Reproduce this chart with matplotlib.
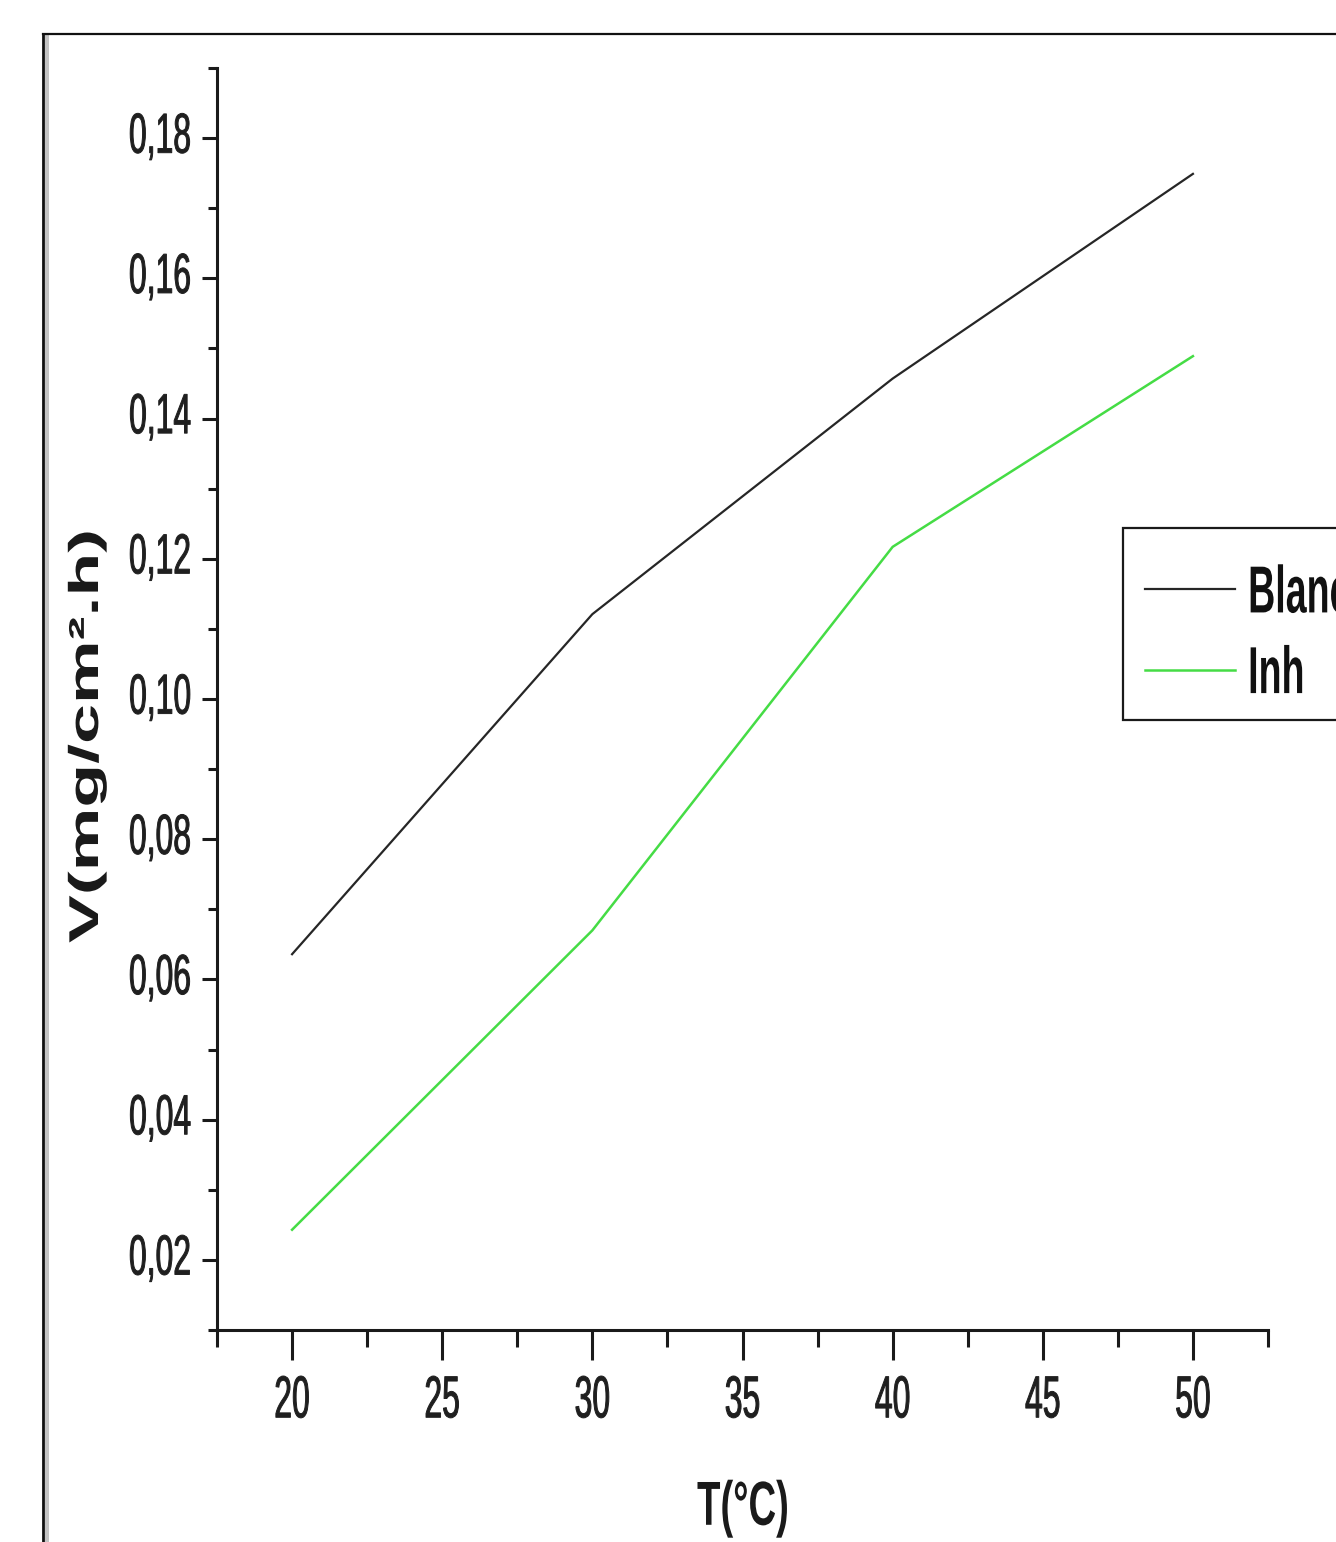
import matplotlib
matplotlib.use('Agg')
import matplotlib.pyplot as plt
from matplotlib import font_manager
from matplotlib.patheffects import AbstractPathEffect
from matplotlib.transforms import Affine2D
from matplotlib.ticker import MultipleLocator
from matplotlib.patches import Rectangle
from matplotlib.lines import Line2D
from matplotlib.path import Path

# ---------------- data ----------------
temperature = [20, 30, 40, 50]
v_blanc = [0.0636, 0.1121, 0.1457, 0.1749]
v_inh = [0.0243, 0.0670, 0.1217, 0.1489]
series_labels = ['Blanc', 'Inh']
x_ticks = [20, 25, 30, 35, 40, 45, 50]
x_tick_labels = ['20', '25', '30', '35', '40', '45', '50']
y_ticks = [0.02, 0.04, 0.06, 0.08, 0.10, 0.12, 0.14, 0.16, 0.18]
y_tick_labels = ['0,02', '0,04', '0,06', '0,08', '0,10', '0,12', '0,14', '0,16', '0,18']
x_label = 'T(°C)'
y_label = 'V(mg/cm².h)'


def have(name):
    try:
        font_manager.findfont(font_manager.FontProperties(family=name),
                              fallback_to_default=False)
        return True
    except Exception:
        return False


if have('Liberation Sans Narrow'):
    NARROW = ['Liberation Sans Narrow', 'DejaVu Sans']
    SQ = 1.0
else:
    NARROW = ['Liberation Sans', 'DejaVu Sans']
    SQ = 0.82
WIDE = ['Liberation Sans', 'DejaVu Sans']


class Stretch(AbstractPathEffect):
    """Draw text glyphs stretched (the source screenshot is stretched)."""

    def __init__(self, sx=1.0, sy=1.0, px=0.0, py=0.0, dx=0.0, dy=0.0, stroke=0.0):
        super().__init__()
        self.sx, self.sy, self.px, self.py = sx, sy, px, py
        self.dx, self.dy, self.stroke = dx, dy, stroke

    def draw_path(self, renderer, gc, tpath, affine, rgbFace=None):
        pre = (Affine2D().translate(-self.px * 100, -self.py * 100)
               .scale(self.sx, self.sy)
               .translate((self.px + self.dx) * 100, (self.py + self.dy) * 100))
        if self.stroke > 0 and rgbFace is not None:
            gc0 = renderer.new_gc()
            gc0.copy_properties(gc)
            gc0.set_linewidth(self.stroke)
            gc0.set_foreground(rgbFace)
            gc0.set_joinstyle('round')
            renderer.draw_path(gc0, tpath, pre + affine, rgbFace)
            gc0.restore()
        else:
            renderer.draw_path(gc, tpath, pre + affine, rgbFace)


def legend_frame_style(x0, y0, width, height, mutation_size):
    """Square frame with extra room above and below the entries (pixels)."""
    top_extra, bottom_extra = 21, 2
    y1 = y0 + height + top_extra
    y0 = y0 - bottom_extra
    x1 = x0 + width
    return Path([(x0, y0), (x1, y0), (x1, y1), (x0, y1), (x0, y0)], closed=True)


W, H = 1336, 1542
fig = plt.figure(figsize=(W / 100, H / 100), dpi=100)
fig.patch.set_facecolor('white')

# outer frame of the screenshot
fig.add_artist(Rectangle((44.5 / W, 0), 4.5 / W, 1 - 34 / H, transform=fig.transFigure,
                         facecolor='#c4c4c4', edgecolor='none'))
fig.add_artist(Line2D([42.5 / W, 42.5 / W], [0, 1 - 33.5 / H], transform=fig.transFigure,
                      color='#111111', lw=2.0))
fig.add_artist(Line2D([42.5 / W, 1.0], [1 - 33.5 / H, 1 - 33.5 / H], transform=fig.transFigure,
                      color='#111111', lw=1.6))

left, right = 217 / W, 1268 / W
bottom, top = 1 - 1330 / H, 1 - 68 / H
ax = fig.add_axes([left, bottom, right - left, top - bottom])

ax.plot(temperature, v_blanc, color='#262626', lw=1.6, label=series_labels[0])
ax.plot(temperature, v_inh, color='#45dc45', lw=1.8, label=series_labels[1])

ax.set_xlim(17.5, 52.5)
ax.set_ylim(0.01, 0.19)

for s in ['top', 'right']:
    ax.spines[s].set_visible(False)
for s in ['left', 'bottom']:
    ax.spines[s].set_linewidth(2.2)
    ax.spines[s].set_color('#1a1a1a')

ax.set_xticks(x_ticks, labels=x_tick_labels, fontsize=28, family=NARROW)
ax.set_yticks(y_ticks, labels=y_tick_labels, fontsize=28, family=NARROW)
ax.xaxis.set_minor_locator(MultipleLocator(2.5))
ax.yaxis.set_minor_locator(MultipleLocator(0.01))

ax.tick_params(axis='x', which='major', direction='out', length=21.5, width=2.2,
               pad=11, color='#1a1a1a', labelcolor='#1f1f1f')
ax.tick_params(axis='x', which='minor', direction='out', length=12, width=2.2,
               color='#1a1a1a')
ax.tick_params(axis='y', which='major', direction='out', length=11, width=2.2,
               pad=7, color='#1a1a1a', labelcolor='#1f1f1f')
ax.tick_params(axis='y', which='minor', direction='out', length=6.5, width=2.2,
               color='#1a1a1a')

for lab in ax.get_xticklabels():
    lab.set_path_effects([Stretch(sx=SQ, sy=1.52, py=0.70, dx=0.10, stroke=0.7)])
for lab in ax.get_yticklabels():
    lab.set_path_effects([Stretch(sx=SQ, sy=1.45, py=0.30, dx=0.33, dy=0.12, stroke=0.7)])

# axis labels
xl = ax.set_xlabel(x_label, fontsize=32, fontweight='bold', family=NARROW,
                   color='#1a1a1a', va='top')
ax.xaxis.set_label_coords(0.5, (1330 - 1480) / (1330 - 68))
xl.set_path_effects([Stretch(sx=SQ * 1.05, sy=1.40, py=0.72, dx=0.18)])

yl = ax.set_ylabel(y_label, fontsize=30, fontweight='bold', family=WIDE,
                   color='#1a1a1a')
yl.set_rotation_mode('anchor')
yl.set_ha('left')
yl.set_va('baseline')
ax.yaxis.set_label_coords((98 - 217) / (1268 - 217), (1330 - 943) / (1330 - 68))
yl.set_path_effects([Stretch(sx=1.72, sy=1.0, px=0.0)])

# legend
leg = ax.legend(loc='upper left', bbox_to_anchor=(1123 / W, 1 - 549 / H),
                bbox_transform=fig.transFigure, borderaxespad=0,
                prop=font_manager.FontProperties(family=NARROW, weight='bold', size=33),
                frameon=True, fancybox=False, framealpha=1, edgecolor='#1a1a1a',
                handlelength=1.97, handletextpad=0.28,
                labelspacing=0.80, borderpad=0.48)
frame = leg.get_frame()
frame.set_linewidth(1.6)
frame.set_boxstyle(legend_frame_style)
for t in leg.get_texts():
    t.set_color('#111111')
    t.set_path_effects([Stretch(sx=SQ, sy=1.45, py=0.36)])

fig.savefig('out.png', dpi=100)
